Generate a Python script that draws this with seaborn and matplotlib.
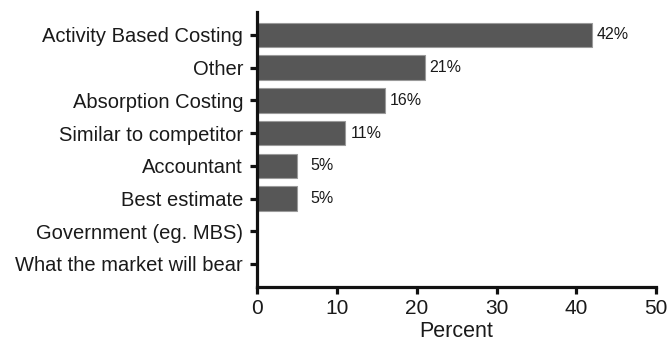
import matplotlib
matplotlib.use('Agg')
import numpy as np
import pandas as pd
import matplotlib.pyplot as plt
import seaborn as sns

# Data
methods = ['Activity Based Costing', 'Other', 'Absorption Costing', 'Similar to competitor',
           'Accountant', 'Best estimate', 'Government (eg. MBS)', 'What the market will bear']
percent = [42, 21, 16, 11, 5, 5, 0, 0]
x_ticks = [0, 10, 20, 30, 40, 50]

df = pd.DataFrame({'method': methods, 'percent': percent})

sns.set_theme(style='ticks')
plt.rcParams['font.family'] = ['Liberation Sans', 'DejaVu Sans']

fig = plt.figure(figsize=(6.69, 3.44), dpi=100)
ax = fig.add_axes([0.384, 0.166, 0.597, 0.799])

sns.barplot(data=df, x='percent', y='method', orient='h', color='#575757',
            width=0.75, edgecolor='#9a9a9a', linewidth=0.8, saturation=1, ax=ax)

for i, v in enumerate(percent):
    if v > 0:
        ax.annotate(f'{v}%', xy=(v, i), xytext=(26.5, 0), textcoords='offset points',
                    ha='right', va='center', fontsize=11.5, color='#1a1a1a')

ax.set_xlim(0, 50)
ax.set_ylim(7.7, -0.7)
ax.set_xticks(x_ticks)
ax.set_xlabel('Percent', fontsize=15.5, color='#1a1a1a', labelpad=2)
ax.set_ylabel('')
sns.despine(ax=ax)
for s in ['left', 'bottom']:
    ax.spines[s].set_linewidth(2.3)
    ax.spines[s].set_color('#111111')
ax.tick_params(axis='both', bottom=True, left=True, length=5, width=2.3, color='#111111',
               direction='out', labelcolor='#1a1a1a')
ax.tick_params(axis='y', labelsize=14.5, pad=5)
ax.tick_params(axis='x', labelsize=15, pad=4)

fig.savefig('out.png', dpi=100, facecolor='white')
